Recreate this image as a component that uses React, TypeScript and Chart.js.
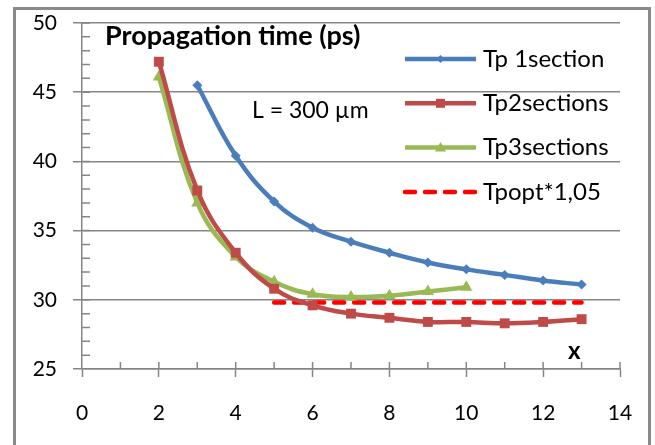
import React, { useEffect, useRef } from 'react';
import { Chart, registerables } from 'chart.js';

Chart.register(...registerables);

// ---- data ----
const xOneSection = [3, 4, 5, 6, 7, 8, 9, 10, 11, 12, 13];
const tpOneSection = [45.5, 40.4, 37.1, 35.2, 34.2, 33.4, 32.7, 32.2, 31.8, 31.4, 31.1];

const xTwoSections = [2, 3, 4, 5, 6, 7, 8, 9, 10, 11, 12, 13];
const tpTwoSections = [47.2, 37.9, 33.4, 30.8, 29.6, 29.0, 28.7, 28.4, 28.4, 28.3, 28.4, 28.6];

const xThreeSections = [2, 3, 4, 5, 6, 7, 8, 9, 10];
const tpThreeSections = [46.1, 37.0, 33.1, 31.3, 30.4, 30.2, 30.3, 30.6, 30.9];

const xOpt = [5, 6, 7, 8, 9, 10, 11, 12, 13];
const tpOpt = [29.8, 29.8, 29.8, 29.8, 29.8, 29.8, 29.8, 29.8, 29.8];

const seriesLabels = ['Tp 1section', 'Tp2sections', 'Tp3sections', 'Tpopt*1,05'];
const xLabelMajor = [0, 2, 4, 6, 8, 10, 12, 14];
const yLabelMajor = [25, 30, 35, 40, 45, 50];

const chartTitle = 'Propagation time (ps)';
const annotationText = 'L = 300 \u00b5m';
const xAxisName = 'x';

// ---- styles ----
const FONT = 'Lato, "Open Sans", sans-serif';
const GRID = '#868686';
const BLUE = '#4a7ebb';
const RED = '#be4b48';
const GREEN = '#98b954';
const DASH_RED = '#ff0000';

function drawMarker(ctx: CanvasRenderingContext2D, style: string, x: number, y: number, r: number, color: string) {
  ctx.save();
  ctx.fillStyle = color;
  ctx.beginPath();
  if (style === 'rectRot') {
    ctx.moveTo(x, y - r);
    ctx.lineTo(x + r, y);
    ctx.lineTo(x, y + r);
    ctx.lineTo(x - r, y);
    ctx.closePath();
  } else if (style === 'rect') {
    ctx.rect(x - r, y - r, 2 * r, 2 * r);
  } else if (style === 'triangle') {
    ctx.moveTo(x, y - r);
    ctx.lineTo(x + r, y + r * 0.7);
    ctx.lineTo(x - r, y + r * 0.7);
    ctx.closePath();
  }
  ctx.fill();
  ctx.restore();
}

const overlayPlugin = {
  id: 'overlay',
  beforeDatasetsDraw(chart: any) {
    const { ctx, chartArea, scales } = chart;
    ctx.save();
    ctx.strokeStyle = GRID;
    ctx.lineWidth = 1.5;
    ctx.beginPath();
    scales.x.ticks.forEach((t: any) => {
      if (t.value === scales.x.min) return;
      const px = scales.x.getPixelForValue(t.value);
      ctx.moveTo(px, chartArea.bottom);
      ctx.lineTo(px, chartArea.bottom - 7);
    });
    scales.y.ticks.forEach((t: any) => {
      if (t.value === scales.y.min) return;
      const py = scales.y.getPixelForValue(t.value);
      ctx.moveTo(chartArea.left, py);
      ctx.lineTo(chartArea.left + 8, py);
    });
    ctx.stroke();
    ctx.restore();
  },
  afterDraw(chart: any) {
    const { ctx, chartArea } = chart;
    ctx.save();
    ctx.fillStyle = '#000';
    ctx.textBaseline = 'alphabetic';
    ctx.textAlign = 'left';
    ctx.font = `bold 27px ${FONT}`;
    ctx.fillText(chartTitle, chartArea.left + 23, chartArea.top + 22);
    ctx.font = `23px ${FONT}`;
    ctx.fillText(annotationText, chartArea.left + 170, chartArea.top + 95);
    ctx.font = `bold 24px ${FONT}`;
    ctx.fillText(xAxisName, chartArea.left + 486, chartArea.top + 336);

    // legend
    const lx0 = chartArea.left + 323;
    const lx1 = lx0 + 71;
    const rowTop = chartArea.top + 36;
    const rowGap = 44.3;
    chart.data.datasets.forEach((ds: any, i: number) => {
      const y = rowTop + i * rowGap;
      ctx.save();
      ctx.strokeStyle = ds.borderColor;
      ctx.lineWidth = ds.borderWidth;
      ctx.lineCap = ds.borderCapStyle || 'butt';
      ctx.setLineDash(ds.borderDash || []);
      ctx.beginPath();
      ctx.moveTo(lx0, y);
      ctx.lineTo(lx1, y);
      ctx.stroke();
      ctx.restore();
      if (ds.pointRadius > 0) {
        const r = ds.pointStyle === 'rect' ? 4.5 : ds.pointStyle === 'triangle' ? 5.5 : 4;
        drawMarker(ctx, ds.pointStyle, (lx0 + lx1) / 2, y, r, ds.pointBackgroundColor);
      }
      ctx.fillStyle = '#000';
      ctx.font = `24px ${FONT}`;
      ctx.textBaseline = 'middle';
      ctx.fillText(ds.label, lx1 + 7, y);
    });
    ctx.restore();
  },
};

function toPoints(xs: number[], ys: number[]) {
  return xs.map((x, i) => ({ x, y: ys[i] }));
}

export default function App() {
  const ref = useRef<HTMLCanvasElement>(null);

  useEffect(() => {
    const canvas = ref.current;
    if (!canvas) return;
    const lineCommon = {
      borderWidth: 4.5,
      tension: 0.4,
      pointBorderWidth: 0,
      pointHoverRadius: 0,
    };
    const chart = new Chart(canvas, {
      type: 'line',
      data: {
        datasets: [
          {
            ...lineCommon,
            label: seriesLabels[0],
            data: toPoints(xOneSection, tpOneSection),
            borderColor: BLUE,
            backgroundColor: BLUE,
            pointBackgroundColor: BLUE,
            pointStyle: 'rectRot',
            pointRadius: 5,
          },
          {
            ...lineCommon,
            label: seriesLabels[1],
            data: toPoints(xTwoSections, tpTwoSections),
            borderColor: RED,
            backgroundColor: RED,
            pointBackgroundColor: RED,
            pointStyle: 'rect',
            pointRadius: 7,
          },
          {
            ...lineCommon,
            label: seriesLabels[2],
            data: toPoints(xThreeSections, tpThreeSections),
            borderColor: GREEN,
            backgroundColor: GREEN,
            pointBackgroundColor: GREEN,
            pointStyle: 'triangle',
            pointRadius: 7,
          },
          {
            label: seriesLabels[3],
            data: toPoints(xOpt, tpOpt),
            borderColor: DASH_RED,
            backgroundColor: DASH_RED,
            borderWidth: 4.5,
            borderDash: [10, 10],
            borderCapStyle: 'round',
            pointRadius: 0,
            pointHoverRadius: 0,
            tension: 0,
          },
        ] as any,
      },
      options: {
        animation: false,
        responsive: false,
        devicePixelRatio: 1,
        events: [],
        layout: { padding: { left: 22, top: 23, right: 35, bottom: 16 } },
        plugins: {
          legend: { display: false },
          tooltip: { enabled: false },
          title: { display: false },
        },
        scales: {
          x: {
            type: 'linear',
            min: 0,
            max: 14,
            afterFit: (s: any) => { s.height = 60; s.paddingLeft = 0; s.paddingRight = 0; },
            ticks: {
              stepSize: 1,
              autoSkip: false,
              maxRotation: 0,
              padding: 24,
              color: '#000',
              font: { family: FONT, size: 21 },
              callback: (v: any) => (xLabelMajor.includes(Number(v)) ? String(v) : ''),
            },
            grid: {
              drawOnChartArea: false,
              drawTicks: true,
              tickLength: 8,
              tickWidth: 1.5,
              tickColor: (c: any) => (c.tick && xLabelMajor.includes(c.tick.value) ? GRID : 'rgba(0,0,0,0)'),
            },
            border: { color: GRID, width: 1.5 },
          },
          y: {
            type: 'linear',
            min: 25,
            max: 50,
            afterFit: (s: any) => { s.width = 60; s.paddingTop = 0; s.paddingBottom = 0; },
            ticks: {
              stepSize: 1,
              autoSkip: false,
              padding: 16,
              color: '#000',
              font: { family: FONT, size: 21 },
              callback: (v: any) => (yLabelMajor.includes(Number(v)) ? String(v) : ''),
            },
            grid: {
              drawTicks: true,
              tickLength: 9,
              lineWidth: 1.5,
              tickWidth: 1.5,
              color: (c: any) => (c.tick && yLabelMajor.includes(c.tick.value) ? GRID : 'rgba(0,0,0,0)'),
              tickColor: (c: any) => (c.tick && yLabelMajor.includes(c.tick.value) ? GRID : 'rgba(0,0,0,0)'),
            },
            border: { color: GRID, width: 1.5 },
          },
        },
      },
      plugins: [overlayPlugin],
    });
    return () => chart.destroy();
  }, []);

  return (
    <div>
      <canvas
        ref={ref}
        width={655}
        height={445}
        style={{ position: 'fixed', left: 0, top: 0, width: 655, height: 445 }}
      />
      <div
        style={{
          position: 'fixed',
          left: 13,
          top: 7,
          width: 632,
          height: 470,
          border: '3px solid #8a8a8a',
          pointerEvents: 'none',
        }}
      />
    </div>
  );
}
